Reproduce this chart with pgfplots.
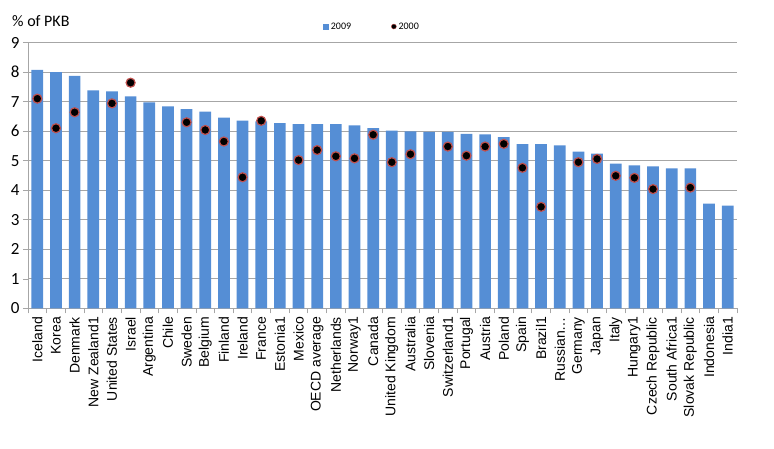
\documentclass[border=0pt]{standalone}
\usepackage{pgfplots}
\pgfplotsset{compat=1.18}
\usepackage{fontspec}
\setmainfont{Carlito}
\newfontfamily\arialf{Liberation Sans}
\definecolor{barblue}{HTML}{558ED5}
\definecolor{dotred}{HTML}{C0504D}
\definecolor{gridgray}{HTML}{A6A6A6}
\begin{document}
\begin{tikzpicture}[x=1pt,y=1pt]
\begin{axis}[
  scale only axis,
  width=709pt, height=266pt,
  xmin=-0.5, xmax=37.5, ymin=0, ymax=9,
  ytick={0,...,9},
  xtick={0,...,37},
  xticklabels={Iceland,Korea,Denmark,New Zealand1,United States,Israel,Argentina,Chile,Sweden,Belgium,Finland,Ireland,France,Estonia1,Mexico,OECD average,Netherlands,Norway1,Canada,United Kingdom,Australia,Slovenia,Switzerland1,Portugal,Austria,Poland,Spain,Brazil1,{Russian\ldots},Germany,Japan,Italy,Hungary1,Czech Republic,South Africa1,Slovak Republic,Indonesia,India1},
  minor xtick={-0.5,0.5,...,37.5},
  axis x line=bottom, axis y line=left,
  axis line style={gridgray, line width=1pt, -},
  tick align=outside,
  major tick length=5pt, minor tick length=5pt,
  tick style={gridgray, line width=0.8pt},
  major x tick style={draw=none},
  ymajorgrids,
  major grid style={gridgray, line width=1pt},
  xticklabel style={rotate=90, anchor=east, font=\arialf\fontsize{14}{14}\selectfont},
  yticklabel style={font=\fontsize{17}{17}\selectfont},
  /pgf/number format/assume math mode=true,
  legend columns=2,
  legend style={draw=none, fill=none, at={(0.485,1.06)}, anchor=center, font=\fontsize{10}{10}\selectfont,
    /tikz/every even column/.append style={column sep=38pt}},
]
\addplot[ybar, bar width=11.7pt, fill=barblue, draw=none,
  legend image code/.code={\fill[barblue] (0pt,-3pt) rectangle (6pt,3pt);}] coordinates {
(0,8.07) (1,8.00) (2,7.87) (3,7.38) (4,7.35) (5,7.18) (6,6.97) (7,6.84) (8,6.75) (9,6.66)
(10,6.46) (11,6.36) (12,6.33) (13,6.27) (14,6.24) (15,6.24) (16,6.24) (17,6.20) (18,6.10) (19,6.02)
(20,5.99) (21,5.98) (22,5.98) (23,5.91) (24,5.89) (25,5.80) (26,5.56) (27,5.56) (28,5.52) (29,5.31)
(30,5.24) (31,4.90) (32,4.84) (33,4.81) (34,4.74) (35,4.74) (36,3.55) (37,3.48)
};
\addlegendentry{2009}
\addplot[only marks, mark=*, mark size=4.5pt, mark options={fill=black, draw=dotred, line width=1.2pt},
  legend image code/.code={\fill[black, draw=dotred, line width=0.4pt] (3pt,0pt) circle (2.5pt);}] coordinates {
(0,7.10) (1,6.10) (2,6.64) (4,6.94) (5,7.64) (8,6.30) (9,6.04) (10,5.65) (11,4.44) (12,6.35)
(14,5.02) (15,5.36) (16,5.15) (17,5.08) (18,5.88) (19,4.95) (20,5.22) (22,5.48) (23,5.17) (24,5.48)
(25,5.57) (26,4.76) (27,3.44) (29,4.95) (30,5.06) (31,4.49) (32,4.42) (33,4.04) (35,4.09)
};
\addlegendentry{2000}
\coordinate (O) at (axis cs:-0.5,0);
\end{axis}
\pgfresetboundingbox
\path[use as bounding box] (O) ++(-28,-140.5) rectangle ++(774,449);
\path (O) ++(-16,281.5) node[anchor=base west, inner sep=0pt, font=\fontsize{16}{16}\selectfont] {\% of PKB};
\end{tikzpicture}
\end{document}
